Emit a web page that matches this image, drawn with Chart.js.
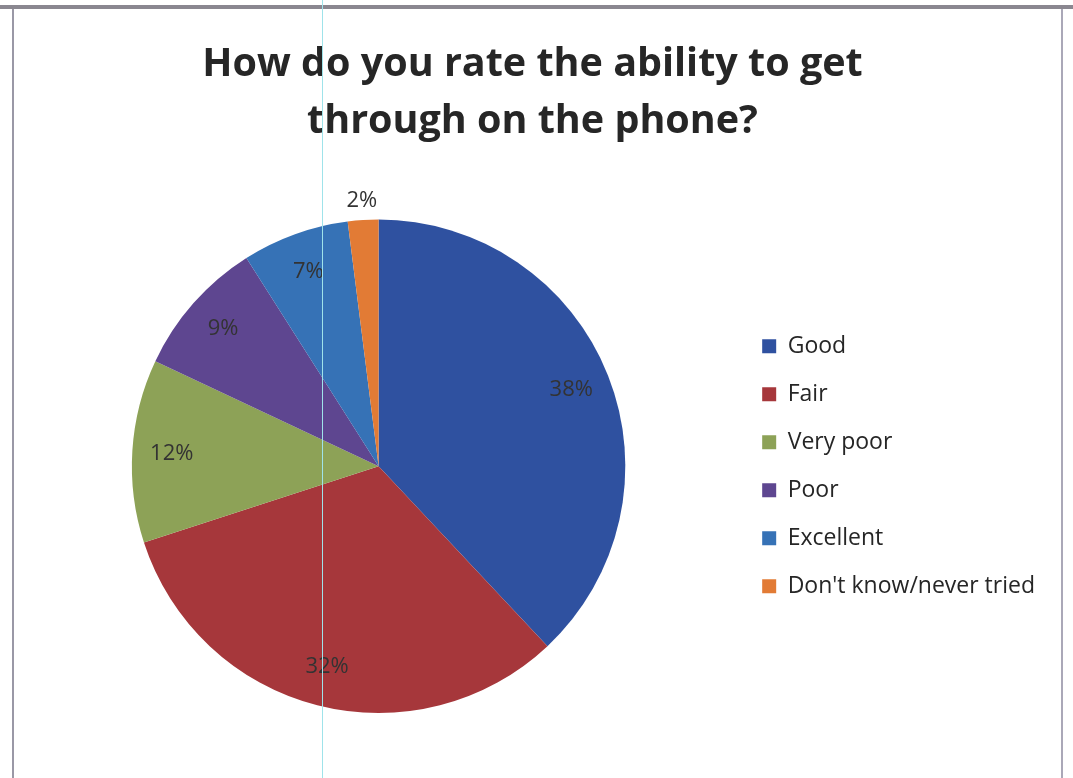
<!DOCTYPE html>
<html>
<head>
<meta charset="utf-8">
<script src="https://cdn.jsdelivr.net/npm/chart.js@4.4.1/dist/chart.umd.min.js"></script>
<style>
  html, body { margin: 0; padding: 0; background: #fff; }
  #wrap { position: relative; width: 1073px; height: 778px; overflow: hidden; }
  #chart { position: absolute; left: 0; top: 0; }
  /* scanned page frame */
  .frame { position: absolute; background: #8a8790; }
  .scanline { position: absolute; left: 322px; top: 0; width: 1px; height: 778px; background: #9fe3ea; }
</style>
</head>
<body>
<div id="wrap">
  <canvas id="chart" width="1073" height="778"></canvas>
  <div class="frame" style="left:0;top:5px;width:1073px;height:4px;"></div>
  <div class="frame" style="left:12px;top:9px;width:2px;height:769px;background:#9a98a6"></div>
  <div class="frame" style="left:1061px;top:9px;width:2px;height:769px;background:#aaa8b8"></div>
  <div class="scanline"></div>
</div>
<script>
const categories = ['Good', 'Fair', 'Very poor', 'Poor', 'Excellent', "Don't know/never tried"];
const shares = [38, 32, 12, 9, 7, 2];
const sliceColors = ['#2f51a0', '#a6373b', '#8da257', '#5e4690', '#3672b6', '#e27b35'];
const titleLines = ['How do you rate the ability to get', 'through on the phone?'];

// percentage labels: inside near the rim, small slices outside
const pctLabels = {
  id: 'pctLabels',
  afterDatasetsDraw(chart) {
    const ctx = chart.ctx;
    const arcs = chart.getDatasetMeta(0).data;
    ctx.save();
    ctx.font = '22px "Open Sans"';
    ctx.fillStyle = '#333';
    ctx.textAlign = 'center';
    ctx.textBaseline = 'middle';
    arcs.forEach((arc, i) => {
      const mid = (arc.startAngle + arc.endAngle) / 2;
      const f = shares[i] < 5 ? 1.08 : 0.84;
      const r = arc.outerRadius * f;
      ctx.fillText(shares[i] + '%', arc.x + Math.cos(mid) * r, arc.y + Math.sin(mid) * r);
    });
    ctx.restore();
  }
};

new Chart(document.getElementById('chart'), {
  type: 'pie',
  data: {
    labels: categories,
    datasets: [{ data: shares, backgroundColor: sliceColors, borderWidth: 0 }]
  },
  options: {
    responsive: false,
    animation: false,
    layout: { padding: { left: 20, right: 28, top: 26, bottom: 65 } },
    plugins: {
      title: {
        display: true,
        text: titleLines,
        color: '#262626',
        font: { family: 'Open Sans', size: 39.5, weight: 'bold', lineHeight: 1.45 },
        padding: { top: 10, bottom: 69 }
      },
      legend: {
        position: 'right',
        fullSize: false,
        labels: {
          color: '#262626',
          font: { family: 'Open Sans', size: 23 },
          boxWidth: 14,
          boxHeight: 14,
          padding: 25
        }
      },
      tooltip: { enabled: false }
    }
  },
  plugins: [pctLabels]
});
</script>
</body>
</html>
